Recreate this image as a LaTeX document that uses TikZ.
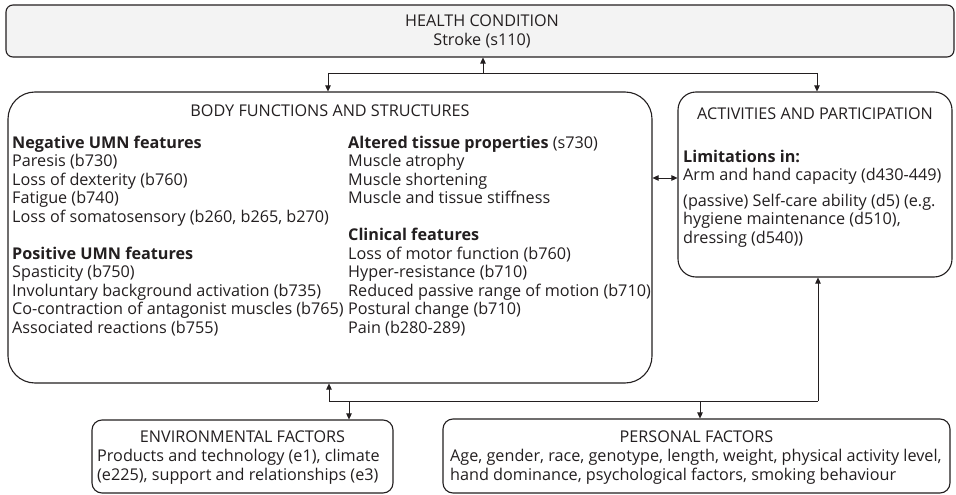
\documentclass[tikz,border=0pt]{standalone}
\usepackage{fontspec}
\setmainfont{Open Sans}
\usetikzlibrary{arrows.meta}
\definecolor{ink}{HTML}{231F20}
\definecolor{hcfill}{HTML}{F3F3F3}
\begin{document}
\begin{tikzpicture}[x=1pt,y=-1pt,
  box/.style={draw=ink, line width=1.1pt, rounded corners=#1, inner sep=0pt},
  txt/.style={anchor=base west, inner sep=0pt, text=ink, font=\fontsize{16.2}{18.5}\selectfont},
  ctr/.style={anchor=base, inner sep=0pt, text=ink, font=\fontsize{16.2}{18.5}\selectfont},
  conn/.style={draw=ink, line width=0.7pt},
  arr/.style={conn, -{Triangle[length=6pt,width=5.5pt]}},
  darr/.style={conn, {Triangle[length=6pt,width=5.5pt]}-{Triangle[length=6pt,width=5.5pt]}}]
\useasboundingbox (0,0) rectangle (956,495);
\fill[white] (0,0) rectangle (956,495);

% boxes
\node[box=7pt, fill=hcfill, minimum width=948pt, minimum height=52pt] (hc) at (480,31) {};
\node[box=27pt, minimum width=644pt, minimum height=291pt] (bfs) at (330,237.5) {};
\node[box=18pt, minimum width=274pt, minimum height=185pt] (ap) at (815,184.5) {};
\node[box=10pt, minimum width=301pt, minimum height=73pt] (ef) at (242.5,456.5) {};
\node[box=10pt, minimum width=507pt, minimum height=74pt] (pf) at (696.5,456) {};

% health condition
\node[ctr] (h1) at (482,26.5) {HEALTH CONDITION};
\node[ctr] (h2) at (482,46) {Stroke (s110)};

% body functions
\node[ctr] (bt) at (330,116.5) {BODY FUNCTIONS AND STRUCTURES};
\node[txt] (n1) at (12,148) {\textbf{Negative UMN features}};
\node[txt] (n2) at (12,166.5) {Paresis (b730)};
\node[txt] (n3) at (12,185) {Loss of dexterity (b760)};
\node[txt] (n4) at (12,203.5) {Fatigue (b740)};
\node[txt] (n5) at (12,222) {Loss of somatosensory (b260, b265, b270)};
\node[txt] (n6) at (12,259) {\textbf{Positive UMN features}};
\node[txt] (n7) at (12,277.5) {Spasticity (b750)};
\node[txt] (n8) at (12,296) {Involuntary background activation (b735)};
\node[txt] (n9) at (12,314.5) {Co-contraction of antagonist muscles (b765)};
\node[txt] (n10) at (12,333) {Associated reactions (b755)};

\node[txt] (m1) at (348,148) {\textbf{Altered tissue properties} (s730)};
\node[txt] (m2) at (348,166.5) {Muscle atrophy};
\node[txt] (m3) at (348,185) {Muscle shortening};
\node[txt] (m4) at (348,203.5) {Muscle and tissue stiffness};
\node[txt] (m5) at (348,240.5) {\textbf{Clinical features}};
\node[txt] (m6) at (348,259) {Loss of motor function (b760)};
\node[txt] (m7) at (348,277.5) {Hyper-resistance (b710)};
\node[txt] (m8) at (348,296) {Reduced passive range of motion (b710)};
\node[txt] (m9) at (348,314.5) {Postural change (b710)};
\node[txt] (m10) at (348,333) {Pain (b280-289)};

% activities and participation
\node[ctr] (at) at (815,119.5) {ACTIVITIES AND PARTICIPATION};
\node[txt] (a1) at (683,162) {\textbf{Limitations in:}};
\node[txt] (a2) at (683,180.5) {Arm and hand capacity (d430-449)};
\node[txt] (a3) at (683,206) {(passive) Self-care ability (d5) (e.g.};
\node[txt] (a4) at (683,224.5) {hygiene maintenance (d510),};
\node[txt] (a5) at (683,243) {dressing (d540))};

% environmental factors
\node[ctr] (e0) at (242.5,442.5) {ENVIRONMENTAL FACTORS};
\node[txt] (e1) at (97,461) {Products and technology (e1), climate};
\node[txt] (e2) at (97,480) {(e225), support and relationships (e3)};

% personal factors
\node[ctr] (p0) at (696.5,442.5) {PERSONAL FACTORS};
\node[txt] (p1) at (450,461) {Age, gender, race, genotype, length, weight, physical activity level,};
\node[txt] (p2) at (450,480) {hand dominance, psychological factors, smoking behaviour};

% top connectors
\coordinate (tc) at (483,73);
\coordinate (tl) at (328,73);
\coordinate (tr) at (817,73);
\draw[arr] (tc) -- (tc |- hc.south);
\draw[conn] (tl) -- (tr);
\draw[arr] (tl) -- (tl |- bfs.north);
\draw[arr] (tr) -- (tr |- ap.north);

% middle double arrow
\coordinate (mid) at (665,178);
\draw[darr] (bfs.east |- mid) -- (ap.west |- mid);

% bottom connectors
\coordinate (bl) at (329,401);
\coordinate (br) at (818,401);
\coordinate (be) at (349,401);
\coordinate (bp) at (700,401);
\draw[conn] (bl) -- (br);
\draw[arr] (bl) -- (bl |- bfs.south);
\draw[arr] (br) -- (br |- ap.south);
\draw[arr] (be) -- (be |- ef.north);
\draw[arr] (bp) -- (bp |- pf.north);
\end{tikzpicture}
\end{document}
